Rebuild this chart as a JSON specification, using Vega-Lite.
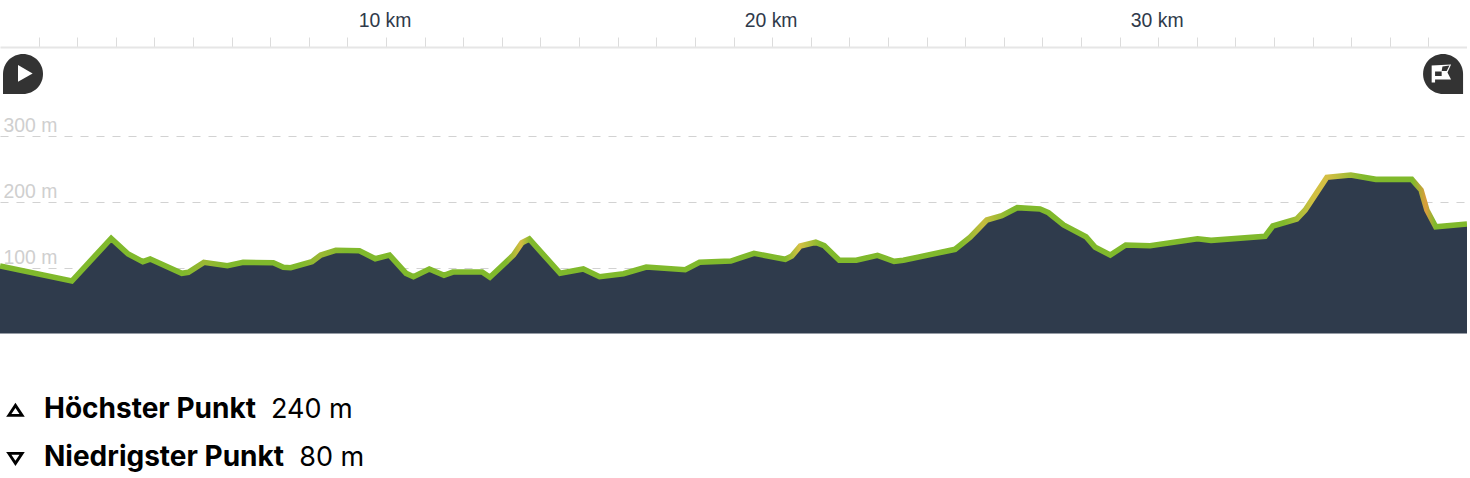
{
"$schema":"https://vega.github.io/schema/vega-lite/v6.json",
"width":1467,"height":478,"padding":0,"autosize":{"type":"none"},
"background":"white",
"datasets":{
"profile":[
{"km":0,"ele":102.3},{"km":1.86,"ele":79.5},{"km":2.88,"ele":144.2},{"km":3.32,"ele":120.5},{"km":3.7,"ele":108.8},{"km":3.89,"ele":112.9},{"km":4.71,"ele":91.2},{"km":4.88,"ele":92.7},{"km":5.28,"ele":107.9},{"km":5.89,"ele":102.7},{"km":6.3,"ele":107.9},{"km":7.08,"ele":107.3},{"km":7.34,"ele":100.3},{"km":7.53,"ele":99.7},{"km":8.08,"ele":108.8},{"km":8.31,"ele":118.9},{"km":8.7,"ele":126.1},{"km":9.31,"ele":125.5},{"km":9.72,"ele":113.3},{"km":10.09,"ele":118.9},{"km":10.52,"ele":91.2},{"km":10.71,"ele":86.1},{"km":11.12,"ele":97.7},{"km":11.5,"ele":88.2},{"km":11.73,"ele":93.2},{"km":12.49,"ele":93.2},{"km":12.69,"ele":85.2},{"km":13.3,"ele":118.9},{"km":13.52,"ele":137.6},{"km":13.71,"ele":143.2},{"km":14.51,"ele":91.2},{"km":15.11,"ele":97.7},{"km":15.53,"ele":86.1},{"km":16.15,"ele":90.6},{"km":16.74,"ele":100.8},{"km":17.75,"ele":96.7},{"km":18.12,"ele":107.9},{"km":18.93,"ele":109.8},{"km":19.53,"ele":121.5},{"km":20.34,"ele":112.4},{"km":20.51,"ele":117.4},{"km":20.73,"ele":132.6},{"km":21.13,"ele":138.2},{"km":21.35,"ele":133},{"km":21.74,"ele":110.9},{"km":22.18,"ele":110.9},{"km":22.73,"ele":118.5},{"km":23.16,"ele":109.4},{"km":23.4,"ele":110.9},{"km":24.74,"ele":127.6},{"km":25.13,"ele":145.8},{"km":25.56,"ele":172},{"km":25.95,"ele":178.5},{"km":26.35,"ele":190.6},{"km":26.94,"ele":188.6},{"km":27.16,"ele":183},{"km":27.55,"ele":164.4},{"km":28.13,"ele":146.7},{"km":28.37,"ele":130.6},{"km":28.76,"ele":118.9},{"km":29.16,"ele":134.1},{"km":29.79,"ele":133},{"km":31.02,"ele":143.6},{"km":31.37,"ele":141.2},{"km":32.77,"ele":147.3},{"km":32.97,"ele":162.9},{"km":33.59,"ele":173.5},{"km":33.81,"ele":187.1},{"km":34.37,"ele":236.7},{"km":34.99,"ele":240.2},{"km":35.64,"ele":233.6},{"km":36.57,"ele":233.6},{"km":36.81,"ele":217.4},{"km":36.96,"ele":187.1},{"km":37.19,"ele":161.8},{"km":38,"ele":165.9}
],
"icons":[{"km":0.596,"ele":393.2,"icon":"start"},{"km":37.38,"ele":393.2,"icon":"end"}],
"stats":[
{"km":1.14,"ele":-128,"vkm":7.02,"label":"Höchster Punkt","value":"240 m","mkm":0.4,"mele":-116.5,"kind":"max"},
{"km":1.14,"ele":-200.8,"vkm":7.75,"label":"Niedrigster Punkt","value":"80 m","mkm":0.4,"mele":-189.1,"kind":"min"}
]
},
"layer":[
{"data":{"name":"profile"},
 "mark":{"type":"area","fill":"#2f3b4c","clip":false},
 "encoding":{
  "x":{"field":"km","type":"quantitative","scale":{"domain":[0,38],"nice":false,"zero":false},
   "axis":{"orient":"top","offset":-47,"values":[1,2,3,4,5,6,7,8,9,10,11,12,13,14,15,16,17,18,19,20,21,22,23,24,25,26,27,28,29,30,31,32,33,34,35,36,37],
    "title":null,"grid":false,"tickSize":10,"tickColor":"#dcdcdc","tickWidth":1,"domainColor":"#e6e6e6","domainWidth":2,
    "labelExpr":"datum.value%10==0 ? datum.value+' km' : ''","labelOverlap":false,"labelFlush":false,"labelFont":"Liberation Sans","labelFontSize":19.4,"labelColor":"#2f3a4a","labelPadding":7,"labelOffset":-1.5}},
  "y":{"field":"ele","type":"quantitative","scale":{"domain":[-218.9,505.3],"nice":false,"zero":false},
   "axis":{"orient":"left","values":[100,200,300],"title":null,"domain":false,"ticks":false,"grid":true,"gridColor":"#d2d2d2","gridWidth":1.2,"gridDash":[8,8],
    "labelExpr":"datum.value+' m'","labelAlign":"left","labelPadding":-3,"labelBaseline":"alphabetic","labelOffset":-4,"labelFont":"Liberation Sans","labelFontSize":19.4,"labelColor":"#cfcfcf"}},
  "y2":{"datum":0}
 }},
{"data":{"name":"profile"},
 "mark":{"type":"line","strokeWidth":5.6,"strokeJoin":"miter","interpolate":"linear",
  "stroke":{"x1":0,"y1":0,"x2":1,"y2":0,"gradient":"linear","stops":[
   {"offset":0,"color":"#80b92c"},{"offset":0.125,"color":"#80b92c"},{"offset":0.139,"color":"#9cb734"},{"offset":0.155,"color":"#80b92c"},{"offset":0.205,"color":"#80b92c"},{"offset":0.218,"color":"#9cb734"},{"offset":0.235,"color":"#80b92c"},
   {"offset":0.345,"color":"#80b92c"},{"offset":0.355,"color":"#d6bc42"},{"offset":0.362,"color":"#80b92c"},
   {"offset":0.535,"color":"#80b92c"},{"offset":0.545,"color":"#d6c044"},{"offset":0.56,"color":"#80b92c"},
   {"offset":0.655,"color":"#80b92c"},{"offset":0.67,"color":"#c6bc3e"},{"offset":0.69,"color":"#80b92c"},
   {"offset":0.875,"color":"#80b92c"},{"offset":0.895,"color":"#d0c042"},{"offset":0.905,"color":"#d4be44"},{"offset":0.93,"color":"#80b92c"},
   {"offset":0.963,"color":"#80b92c"},{"offset":0.972,"color":"#dc9c3c"},{"offset":0.978,"color":"#80b92c"},{"offset":1,"color":"#80b92c"}
  ]}},
 "encoding":{"x":{"field":"km","type":"quantitative"},"y":{"field":"ele","type":"quantitative"}}},
{"data":{"name":"icons"},"transform":[{"filter":"datum.icon=='start'"}],
 "mark":{"type":"point","filled":true,"fill":"#333333","stroke":null,"size":1600,"opacity":1,"shape":"M-1,1 L-1,0 A1,1 0 1 1 0,1 Z"},
 "encoding":{"x":{"field":"km","type":"quantitative"},"y":{"field":"ele","type":"quantitative"}}},
{"data":{"name":"icons"},"transform":[{"filter":"datum.icon=='start'"}],
 "mark":{"type":"point","filled":true,"fill":"#ffffff","stroke":null,"size":1600,"opacity":1,"shape":"M-0.25,-0.45 L0.48,-0.03 L-0.25,0.39 Z"},
 "encoding":{"x":{"field":"km","type":"quantitative"},"y":{"field":"ele","type":"quantitative"}}},
{"data":{"name":"icons"},"transform":[{"filter":"datum.icon=='end'"}],
 "mark":{"type":"point","filled":true,"fill":"#333333","stroke":null,"size":1600,"opacity":1,"shape":"M1,1 L1,0 A1,1 0 1 0 0,1 Z"},
 "encoding":{"x":{"field":"km","type":"quantitative"},"y":{"field":"ele","type":"quantitative"}}},
{"data":{"name":"icons"},"transform":[{"filter":"datum.icon=='end'"}],
 "mark":{"type":"point","filled":true,"fill":"#ffffff","stroke":null,"size":1600,"opacity":1,"shape":"M-0.57,-0.42 L0.4,-0.48 L0.22,-0.07 L0.4,0.27 L-0.4,0.27 L-0.4,0.43 L-0.57,0.43 Z"},
 "encoding":{"x":{"field":"km","type":"quantitative"},"y":{"field":"ele","type":"quantitative"}}},
{"data":{"name":"icons"},"transform":[{"filter":"datum.icon=='end'"}],
 "mark":{"type":"point","filled":true,"fill":"#333333","stroke":null,"size":1600,"opacity":1,"shape":"M-0.03,-0.37 L0.32,-0.42 L0.18,-0.15 L-0.07,-0.15 Z M-0.4,-0.12 L-0.07,-0.12 L-0.07,0.1 L-0.4,0.1 Z"},
 "encoding":{"x":{"field":"km","type":"quantitative"},"y":{"field":"ele","type":"quantitative"}}},
{"data":{"name":"stats"},
 "mark":{"type":"text","align":"left","baseline":"alphabetic","font":"Inter","fontWeight":700,"fontSize":28,"color":"#000000"},
 "encoding":{"x":{"field":"km","type":"quantitative"},"y":{"field":"ele","type":"quantitative"},"text":{"field":"label"}}},
{"data":{"name":"stats"},
 "mark":{"type":"text","align":"left","baseline":"alphabetic","font":"Inter","fontWeight":400,"fontSize":27,"color":"#000000"},
 "encoding":{"x":{"field":"vkm","type":"quantitative"},"y":{"field":"ele","type":"quantitative"},"text":{"field":"value"}}},
{"data":{"name":"stats"},"transform":[{"filter":"datum.kind=='max'"}],
 "mark":{"type":"point","filled":false,"stroke":"#000000","strokeWidth":2.8,"size":180,"opacity":1,"shape":"M-1,0.75 L0,-0.75 L1,0.75 Z"},
 "encoding":{"x":{"field":"mkm","type":"quantitative"},"y":{"field":"mele","type":"quantitative"}}},
{"data":{"name":"stats"},"transform":[{"filter":"datum.kind=='min'"}],
 "mark":{"type":"point","filled":false,"stroke":"#000000","strokeWidth":2.8,"size":180,"opacity":1,"shape":"M-1,-0.75 L0,0.75 L1,-0.75 Z"},
 "encoding":{"x":{"field":"mkm","type":"quantitative"},"y":{"field":"mele","type":"quantitative"}}}
],
"config":{"view":{"stroke":null}}
}
